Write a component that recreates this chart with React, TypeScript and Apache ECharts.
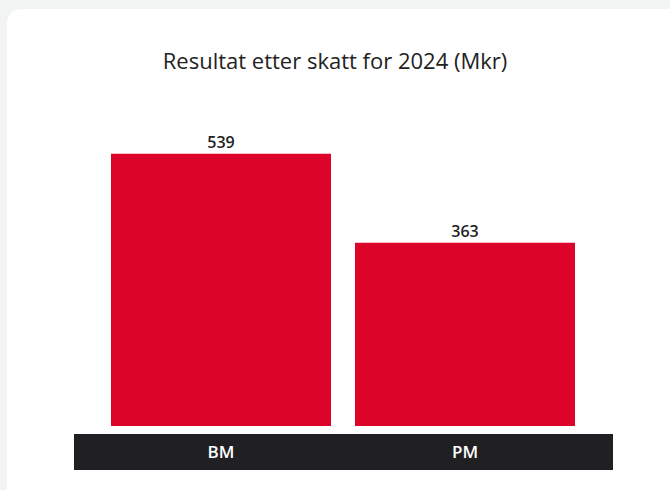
import React, { useEffect, useRef } from "react";
import * as echarts from "echarts";

const categories = ["BM", "PM"];
const values = [539, 363];
const titleText = "Resultat etter skatt for 2024 (Mkr)";

export default function App() {
  const ref = useRef<HTMLDivElement>(null);
  useEffect(() => {
    if (!ref.current) return;
    const chart = echarts.init(ref.current, undefined, { renderer: "svg" });
    chart.setOption({
      animation: false,
      backgroundColor: "#f2f3f3",
      textStyle: { fontFamily: "Open Sans" },
      title: {
        text: titleText,
        left: "center",
        top: 44,
        textStyle: { fontSize: 22, fontWeight: "normal", color: "#222", fontFamily: "Open Sans" },
      },
      graphic: [
        {
          type: "rect",
          z: -10,
          shape: { x: 7, y: 9, width: 700, height: 520, r: 14 },
          style: { fill: "#ffffff" },
        },
        {
          type: "rect",
          z: -5,
          shape: { x: 74, y: 434, width: 539, height: 36 },
          style: { fill: "#202022" },
        },
      ],
      grid: { left: 99, width: 488, top: 123, height: 303 },
      xAxis: {
        type: "category",
        data: categories,
        z: 10,
        axisLine: { show: false },
        axisTick: { show: false },
        axisLabel: { color: "#ffffff", fontSize: 17, fontWeight: 600, margin: 17, fontFamily: "Open Sans" },
      },
      yAxis: {
        type: "value",
        min: 0,
        max: 600,
        show: false,
        splitLine: { show: false },
      },
      series: [
        {
          type: "bar",
          data: values,
          barWidth: 220,
          itemStyle: { color: "#dc0429" },
          label: {
            show: true,
            position: "top",
            distance: 4,
            color: "#222",
            fontSize: 16,
            fontWeight: 600,
            fontFamily: "Open Sans",
          },
        },
      ],
    });
    return () => chart.dispose();
  }, []);
  return <div ref={ref} style={{ position: "absolute", left: 0, top: 0, width: 670, height: 490 }} />;
}
